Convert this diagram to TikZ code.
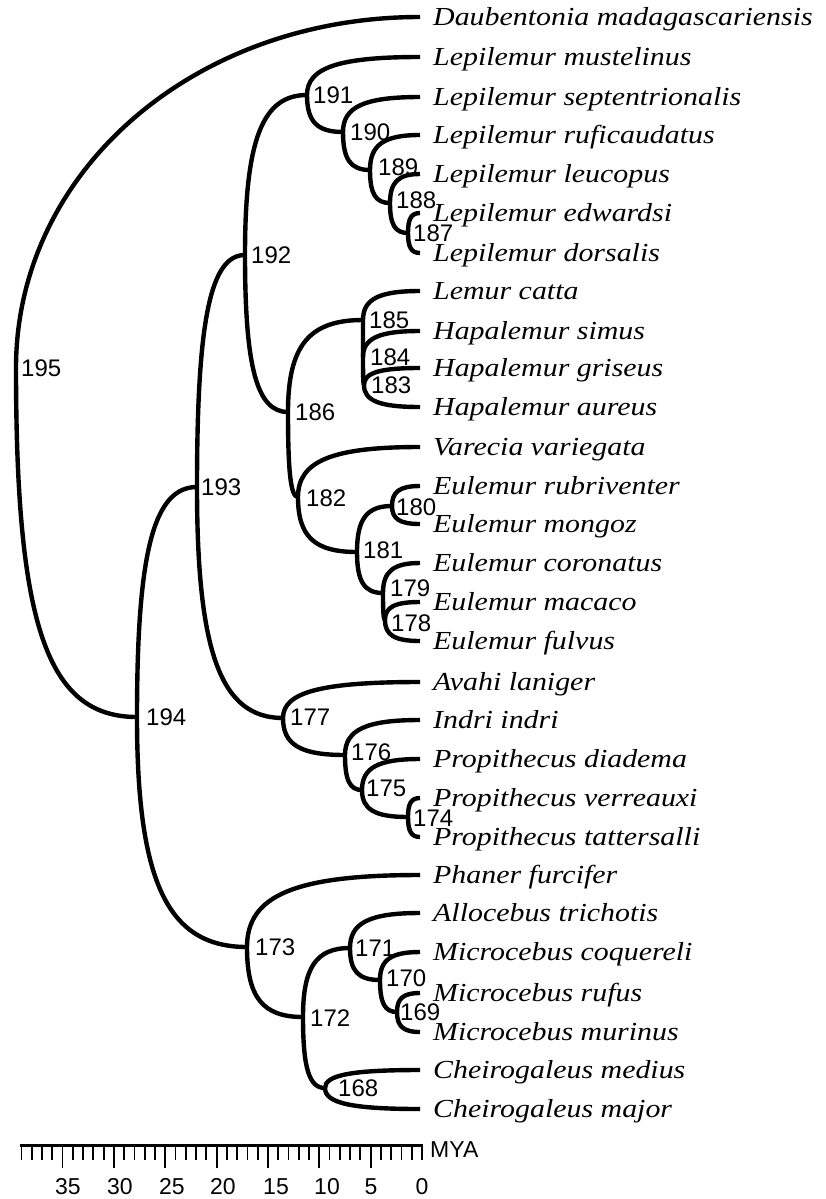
\documentclass[tikz,border=0pt]{standalone}
\usepackage{fontspec}
\setmainfont{Liberation Serif}
\newfontfamily\taxonfont{Liberation Serif}[FakeStretch=1.15]
\newfontfamily\numfont{Liberation Sans}
\usetikzlibrary{calc}

% leaf tip (coordinate) with its species name
\newcommand\taxon[3]{%
  \coordinate (#1) at (420,#2);
  \node[taxon] (#1-name) at (433,#2+8.6) {#3};}
% internal node (coordinate) with its number printed beside it
\newcommand\clade[5]{%
  \coordinate (n#1) at (#2,#3);
  \node[num] (l#1) at (#4,#5) {#1};}

\begin{document}
\begin{tikzpicture}[x=1pt,y=-1pt,
  bendk/.store in=\bendk, bendk=0.72,
  br/.style={line width=4.4pt,
    to path={.. controls ($(\tikztostart)!\bendk!(\tikztostart|-\tikztotarget)$)
                 and ($(\tikztotarget)!\bendk!(\tikztostart|-\tikztotarget)$) .. (\tikztotarget)}},
  taxon/.style={font=\taxonfont\itshape\fontsize{26}{30}\selectfont, anchor=base west, inner sep=0pt},
  num/.style={font=\numfont\fontsize{24}{28}\selectfont, anchor=west, inner sep=0pt},
  scalenum/.style={font=\numfont\fontsize{23}{27}\selectfont, inner sep=0pt},
  tick/.style={line width=1.8pt}]
\useasboundingbox (0,0) rectangle (825,1199);

% ---- species ----
\taxon{daub}{17}{Daubentonia madagascariensis}
\taxon{lmus}{57}{Lepilemur mustelinus}
\taxon{lsep}{97}{Lepilemur septentrionalis}
\taxon{lruf}{135}{Lepilemur ruficaudatus}
\taxon{lleu}{174}{Lepilemur leucopus}
\taxon{ledw}{213}{Lepilemur edwardsi}
\taxon{ldor}{253}{Lepilemur dorsalis}
\taxon{lcat}{291}{Lemur catta}
\taxon{hsim}{331}{Hapalemur simus}
\taxon{hgri}{368}{Hapalemur griseus}
\taxon{haur}{407}{Hapalemur aureus}
\taxon{vvar}{447}{Varecia variegata}
\taxon{erub}{486}{Eulemur rubriventer}
\taxon{emon}{524}{Eulemur mongoz}
\taxon{ecor}{563}{Eulemur coronatus}
\taxon{emac}{602}{Eulemur macaco}
\taxon{eful}{641}{Eulemur fulvus}
\taxon{alan}{682}{Avahi laniger}
\taxon{iind}{720}{Indri indri}
\taxon{pdia}{759}{Propithecus diadema}
\taxon{pver}{798}{Propithecus verreauxi}
\taxon{ptat}{837}{Propithecus tattersalli}
\taxon{pfur}{875}{Phaner furcifer}
\taxon{atri}{913}{Allocebus trichotis}
\taxon{mcoq}{952}{Microcebus coquereli}
\taxon{mruf}{993}{Microcebus rufus}
\taxon{mmur}{1032}{Microcebus murinus}
\taxon{cmed}{1070}{Cheirogaleus medius}
\taxon{cmaj}{1109}{Cheirogaleus major}

% ---- internal nodes ----
\clade{195}{16}{368}{21}{368}
\clade{194}{137}{717}{146}{717}
\clade{193}{197}{487}{201}{487}
\clade{192}{245}{255}{251}{255}
\clade{191}{307}{95}{313}{95}
\clade{190}{343}{132}{350}{132}
\clade{189}{370}{170}{378}{167}
\clade{188}{390}{203}{396}{200}
\clade{187}{408}{233}{413}{233}
\clade{186}{288}{412}{295}{412}
\clade{185}{363}{320}{369}{320}
\clade{184}{363}{357}{370}{357}
\clade{183}{364}{385}{371}{385}
\clade{182}{298}{497}{306}{498}
\clade{181}{357}{552}{363}{550}
\clade{180}{392}{506}{396}{507}
\clade{179}{383}{593}{390}{588}
\clade{178}{385}{620}{391}{623}
\clade{177}{283}{718}{290}{717}
\clade{176}{345}{755}{351}{752}
\clade{175}{362}{790}{366}{788}
\clade{174}{408}{817}{413}{818}
\clade{173}{247}{947}{255}{947}
\clade{172}{303}{1017}{310}{1018}
\clade{171}{350}{948}{355}{948}
\clade{170}{380}{980}{386}{978}
\clade{169}{397}{1012}{400}{1012}
\clade{168}{325}{1088}{338}{1088}

% ---- branches ----
\draw[br, bendk=0.56] (n195) to (daub);
\draw[br, bendk=0.74] (n195) to (n194);
\draw[br] (n194) to (n193) (n194) to (n173);
\draw[br] (n193) to (n192) (n193) to (n177);
\draw[br] (n192) to (n191) (n192) to (n186);
\draw[br] (n191) to (lmus) (n191) to (n190);
\draw[br] (n190) to (lsep) (n190) to (n189);
\draw[br] (n189) to (lruf) (n189) to (n188);
\draw[br] (n188) to (lleu) (n188) to (n187);
\draw[br] (n187) to (ledw) (n187) to (ldor);
\draw[br] (n186) to (n185) (n186) to (n182);
\draw[br] (n185) to (lcat) (n185) to (n184);
\draw[br] (n184) to (hsim) (n184) to (n183);
\draw[br] (n183) to (hgri) (n183) to (haur);
\draw[br] (n182) to (vvar) (n182) to (n181);
\draw[br] (n181) to (n180) (n181) to (n179);
\draw[br] (n180) to (erub) (n180) to (emon);
\draw[br] (n179) to (ecor) (n179) to (n178);
\draw[br] (n178) to (emac) (n178) to (eful);
\draw[br] (n177) to (alan) (n177) to (n176);
\draw[br] (n176) to (iind) (n176) to (n175);
\draw[br] (n175) to (pdia) (n175) to (n174);
\draw[br] (n174) to (pver) (n174) to (ptat);
\draw[br] (n173) to (pfur) (n173) to (n172);
\draw[br] (n172) to (n171) (n172) to (n168);
\draw[br] (n171) to (atri) (n171) to (n170);
\draw[br] (n170) to (mcoq) (n170) to (n169);
\draw[br] (n169) to (mruf) (n169) to (mmur);
\draw[br] (n168) to (cmed) (n168) to (cmaj);

% ---- time scale (10.27 units per million years) ----
\coordinate (bar0) at (422,1145);
\coordinate (bar39) at (19.5,1145);
\draw[line width=3pt] (bar39) -- (bar0);
\foreach \v in {0,...,39}{
  \pgfmathsetmacro\len{(mod(\v,5)==0 && \v>0) ? 23 : 15}
  \draw[tick] ($(bar0)+(-10.27*\v,-1)$) -- ++(0,\len+1);
}
\foreach \v/\x in {35/68,30/120,25/172,20/223,15/276,10/327,5/371,0/422}
  \node[scalenum] (s\v) at (\x,1187) {\v};
\node[scalenum, anchor=west] (mya) at (430,1150) {MYA};
\end{tikzpicture}
\end{document}
